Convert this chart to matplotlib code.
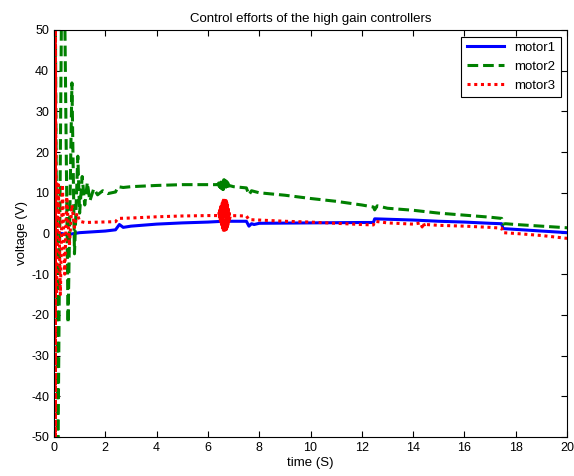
import matplotlib
matplotlib.use("Agg")
import matplotlib.pyplot as plt

plt.rcParams['font.family'] = ['Liberation Sans', 'DejaVu Sans']
plt.rcParams['axes.unicode_minus'] = False

# motor1 (blue, solid)
t1 = [0, 0.3, 0.5, 0.8, 1.0, 1.5, 2.0, 2.4, 2.55, 2.7, 3.0, 4.0, 5.0, 6.0, 6.6,
      7.5, 7.6, 7.7, 7.8, 8.0, 10.0, 12.0, 12.45, 12.5, 13.0, 14.0, 15.0, 16.0,
      17.0, 17.45, 17.5, 18.0, 19.0, 20.0]
v1 = [0, 0, -0.3, 0, 0.2, 0.4, 0.6, 0.9, 2.2, 1.5, 1.8, 2.3, 2.6, 2.8, 3.0,
      3.0, 1.8, 2.4, 2.2, 2.5, 2.6, 2.7, 2.7, 3.6, 3.5, 3.3, 3.0, 2.8,
      2.5, 2.4, 1.2, 1.0, 0.6, 0.2]

# motor2 (green, dashed)
t2 = [0, 0.05, 0.15, 0.3, 0.42, 0.55, 0.7, 0.8, 0.93, 1.0, 1.1, 1.2, 1.3, 1.4,
      1.55, 1.7, 1.9, 2.1, 2.4, 2.5, 2.7, 3.0, 4.0, 5.0, 6.4,
      6.42, 6.44, 6.46, 6.48, 6.5, 6.52, 6.54, 6.56, 6.58, 6.6, 6.62, 6.64,
      6.66, 6.68, 6.7, 6.72, 6.74, 6.76, 6.78, 6.8, 6.82,
      7.0, 7.5, 7.6, 7.7, 8.0, 9.0, 10.0, 11.0, 12.0, 12.45, 12.5, 12.6, 13.0,
      14.0, 15.0, 16.0, 17.0, 17.45, 17.5, 17.6, 18.0, 19.0, 20.0]
v2 = [0, 60, -60, 60, 55, -22, 37, -5, 19, 5, 14, 7, 12.5, 8,
      11, 9.5, 10.5, 9.8, 10.2, 11.5, 11.3, 11.5, 11.8, 12.0, 12.0,
      12.4, 11.6, 12.7, 11.3, 12.9, 11.1, 13.1, 10.9, 13.2, 10.8, 13.2, 10.8,
      13.1, 10.9, 12.9, 11.1, 12.7, 11.3, 12.4, 11.6, 11.8,
      11.5, 11.2, 9.5, 10.5, 10.0, 9.4, 8.6, 7.9, 7.0, 6.5, 5.8, 6.8, 6.2,
      5.7, 5.0, 4.5, 4.0, 3.7, 2.3, 2.4, 2.2, 1.8, 1.4]

# motor3 (red, dotted)
t3 = [0, 0.004, 0.008, 0.012, 0.016, 0.02, 0.024, 0.028, 0.032, 0.036, 0.04,
      0.044, 0.048, 0.052, 0.056, 0.06,
      0.1, 0.17, 0.25, 0.33, 0.42, 0.5, 0.6,
      0.7, 0.8, 0.9, 1.0, 1.2, 2.4, 2.5, 3.0, 4.0, 5.0, 6.0, 6.42,
      6.435, 6.45, 6.465, 6.48, 6.495, 6.51, 6.525, 6.54, 6.555, 6.57, 6.585,
      6.6, 6.615, 6.63, 6.645, 6.66, 6.675, 6.69, 6.705, 6.72, 6.735, 6.75,
      6.765, 6.78, 6.795, 6.81, 6.825, 6.84,
      6.88, 7.5, 7.6, 8.0, 9.0, 10.0, 11.0, 12.0, 12.45, 12.5, 13.0, 14.0,
      14.3, 14.35, 14.4, 14.45, 14.5, 15.0, 16.0, 17.0, 17.45, 17.5, 18.0,
      19.0, 20.0]
v3 = [0, 80, -77, 73, -83, 78, -71, 86, -74, 81, -79, 69, -88, 76, -72, 40,
      -15, 12, -15, 12, -10, 9, -3,
      7, 1.5, 5, 3, 2.7, 2.9, 3.7, 3.8, 4.1, 4.3, 4.4, 4.4,
      5.1, 3.7, 5.8, 3.0, 6.5, 2.3, 7.1, 1.6, 7.7, 1.0, 8.2, 0.5,
      8.6, 0.2, 8.7, 0.3, 8.5, 0.6, 8.1, 1.0, 7.6, 1.5,
      7.0, 2.1, 6.3, 2.8, 5.6, 3.5,
      4.4, 4.3, 3.4, 3.3, 3.0, 2.8, 2.5, 2.2, 2.1, 3.0, 2.6, 2.3,
      2.6, 1.6, 2.6, 1.7, 2.2, 2.0, 1.8, 1.5, 1.3, 0.2, 0.0,
      -0.5, -1.2]

labels = ['motor1', 'motor2', 'motor3']

fig = plt.figure(figsize=(5.74, 4.76), dpi=100)
ax = fig.add_axes([0.094, 0.082, 0.894, 0.855])

ax.plot(t1, v1, color='#0000ff', lw=2.2, ls='-', label=labels[0])
ax.plot(t2, v2, color='#008000', lw=2.2, ls=(0, (3.5, 1.6)), label=labels[1])
ax.plot(t3, v3, color='#ff0000', lw=2.2, ls=(0, (1, 1.2)), label=labels[2])

ax.set_xlim(0, 20)
ax.set_ylim(-50, 50)
ax.set_xticks(range(0, 21, 2))
ax.set_yticks(range(-50, 51, 10))
ax.tick_params(direction='in', top=True, right=True, labelsize=9, length=4, width=0.8)
for s in ax.spines.values():
    s.set_linewidth(0.8)

ax.set_title('Control efforts of the high gain controllers', fontsize=9.5)
ax.set_xlabel('time (S)', fontsize=9.5, labelpad=2)
ax.set_ylabel('voltage (V)', fontsize=9.5, labelpad=2)

leg = ax.legend(loc='upper right', fontsize=9.5, fancybox=False, framealpha=1,
                edgecolor='black', handlelength=2.8, borderaxespad=0.5)
leg.get_frame().set_linewidth(0.8)

fig.savefig('out.png', dpi=100)
